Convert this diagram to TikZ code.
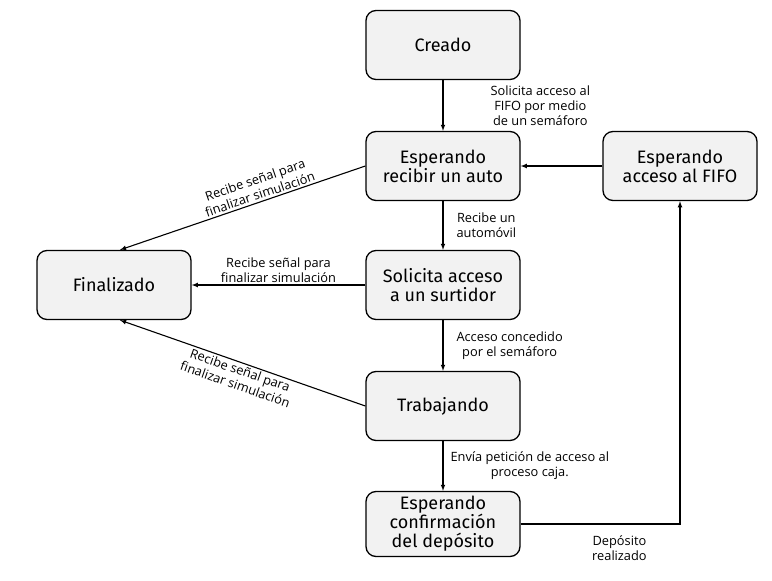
\documentclass[tikz,border=0pt]{standalone}
\usepackage{fontspec}
\setmainfont{Fira Sans}
\newfontfamily\lblfont{Open Sans}
\usetikzlibrary{positioning,calc}
\tikzset{
  state/.style={draw,line width=1.3pt,rounded corners=10pt,fill=black!5,
    minimum width=154pt,minimum height=69pt,align=center,
    font=\fontsize{18}{19}\selectfont},
  lbl/.style={align=center,font=\lblfont\fontsize{12.8}{15}\selectfont,inner sep=2pt}
}
\begin{document}
\begin{tikzpicture}[x=1pt,y=-1pt,->,>=latex,line width=1.1pt]
        \useasboundingbox (0,0) rectangle (772,581);
        \node[state] (creado) at (443,45) {Creado};
        \node[state] (recibir) at (443,166) {Esperando\\recibir un auto};
        \node[state] (fifo) at (680,166) {Esperando\\acceso al FIFO};
        \node[state] (fin) at (114,285) {Finalizado};
        \node[state] (surtidor) at (443,285) {Solicita acceso\\a un surtidor};
        \node[state] (trab) at (443,406) {Trabajando};
        \node[state,minimum height=65pt] (dep) at (443,524) {Esperando\\confirmación\\del depósito};
        \draw (creado) -- node[lbl,right=45pt] {Solicita acceso al\\FIFO por medio\\de un semáforo} (recibir);
        \draw (fifo) -- (recibir);
        \draw (recibir.west) -- node[lbl,sloped,above,pos=0.42] {Recibe señal para\\finalizar simulación} ([xshift=6pt]fin.north);
        \draw (recibir) -- node[lbl,right=11pt] {Recibe un\\automóvil} (surtidor);
        \draw (surtidor) -- node[lbl,above] {Recibe señal para\\finalizar simulación} (fin);
        \draw (surtidor) -- node[lbl,right=11pt] {Acceso concedido\\por el semáforo} (trab);
        \draw (trab.west) -- node[lbl,sloped,below,pos=0.5] {Recibe señal para\\finalizar simulación} ([xshift=6pt]fin.south);
        \draw (trab) -- node[lbl,right=5pt] {Envía petición de acceso al\\proceso caja.} (dep);
        \draw (dep) -| node[lbl,below=9pt,pos=0.31] {Depósito\\realizado} (fifo);
      \end{tikzpicture}
\end{document}
